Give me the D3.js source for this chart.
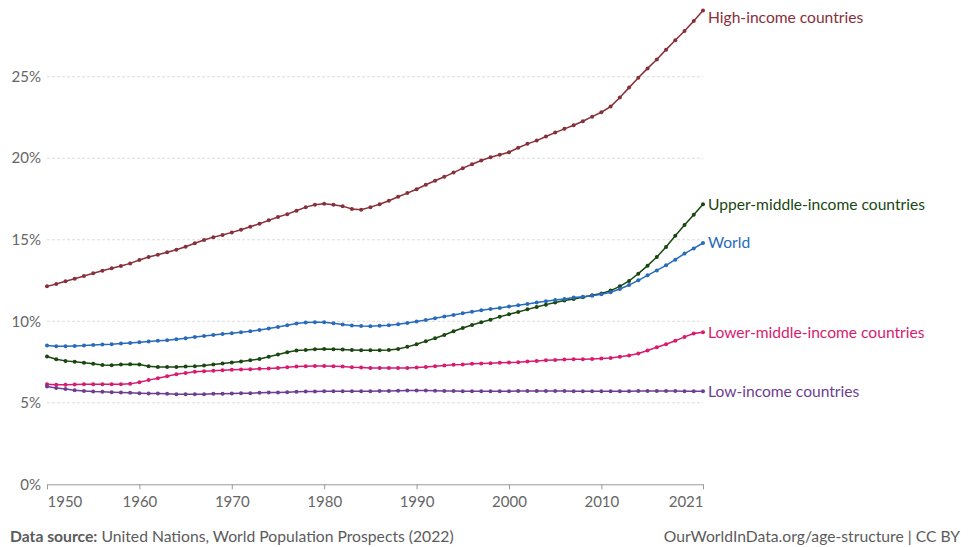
<!DOCTYPE html>
<html>
<head>
<meta charset="utf-8">
<script src="https://cdn.jsdelivr.net/npm/d3@7"></script>
<style>
  html, body { margin: 0; padding: 0; background: #fff; }
  svg { display: block; font-family: Lato, "Noto Sans", sans-serif; }
</style>
</head>
<body>
<svg id="chart" width="972" height="547"></svg>
<script>
const startYear = 1950;
const endYear = 2021;
const years = d3.range(startYear, endYear + 1);
const yTicks = [0, 5, 10, 15, 20, 25];
const xTicks = [1950, 1960, 1970, 1980, 1990, 2000, 2010, 2021];

const seriesNames = ["High-income countries", "Upper-middle-income countries", "World", "Lower-middle-income countries", "Low-income countries"];
const seriesColors = ["#883039", "#18470f", "#286bbb", "#d81b6f", "#6d3e91"];

const highIncome = [12.14, 12.29, 12.45, 12.61, 12.78, 12.94, 13.10, 13.25, 13.39, 13.55,
  13.76, 13.94, 14.08, 14.23, 14.39, 14.57, 14.78, 14.98, 15.16, 15.29,
  15.45, 15.61, 15.80, 15.98, 16.19, 16.39, 16.57, 16.78, 17.00, 17.15,
  17.21, 17.15, 17.06, 16.88, 16.84, 17.00, 17.18, 17.39, 17.64, 17.86,
  18.10, 18.37, 18.62, 18.86, 19.12, 19.39, 19.63, 19.86, 20.06, 20.21,
  20.37, 20.64, 20.88, 21.08, 21.33, 21.57, 21.80, 22.02, 22.27, 22.55,
  22.82, 23.17, 23.72, 24.33, 24.94, 25.51, 26.06, 26.66, 27.23, 27.80,
  28.41, 29.06];
const upperMiddle = [7.84, 7.67, 7.57, 7.51, 7.45, 7.39, 7.32, 7.30, 7.35, 7.37,
  7.35, 7.24, 7.20, 7.20, 7.20, 7.23, 7.24, 7.29, 7.35, 7.41,
  7.47, 7.53, 7.61, 7.69, 7.82, 7.96, 8.10, 8.21, 8.24, 8.29,
  8.30, 8.29, 8.27, 8.24, 8.22, 8.22, 8.22, 8.23, 8.30, 8.43,
  8.59, 8.78, 8.96, 9.16, 9.39, 9.59, 9.77, 9.94, 10.10, 10.27,
  10.43, 10.57, 10.73, 10.88, 11.02, 11.15, 11.27, 11.37, 11.47, 11.59,
  11.70, 11.88, 12.14, 12.47, 12.92, 13.41, 13.94, 14.55, 15.25, 15.90,
  16.53, 17.17];
const world = [8.51, 8.47, 8.47, 8.49, 8.51, 8.55, 8.57, 8.59, 8.63, 8.67,
  8.71, 8.76, 8.80, 8.84, 8.90, 8.96, 9.04, 9.10, 9.16, 9.22,
  9.27, 9.33, 9.39, 9.47, 9.55, 9.65, 9.75, 9.86, 9.92, 9.94,
  9.94, 9.88, 9.80, 9.74, 9.71, 9.70, 9.72, 9.76, 9.82, 9.90,
  9.98, 10.08, 10.18, 10.29, 10.39, 10.49, 10.59, 10.67, 10.75, 10.82,
  10.90, 10.98, 11.06, 11.15, 11.22, 11.30, 11.37, 11.45, 11.51, 11.57,
  11.65, 11.78, 11.98, 12.22, 12.51, 12.82, 13.12, 13.43, 13.78, 14.15,
  14.47, 14.80];
const lowerMiddle = [6.14, 6.10, 6.10, 6.12, 6.14, 6.14, 6.14, 6.14, 6.14, 6.16,
  6.26, 6.39, 6.51, 6.63, 6.75, 6.83, 6.90, 6.94, 6.96, 7.00,
  7.02, 7.04, 7.06, 7.08, 7.10, 7.14, 7.18, 7.23, 7.24, 7.26,
  7.26, 7.24, 7.23, 7.18, 7.16, 7.14, 7.13, 7.13, 7.13, 7.14,
  7.16, 7.20, 7.24, 7.29, 7.33, 7.35, 7.39, 7.41, 7.43, 7.45,
  7.47, 7.49, 7.53, 7.57, 7.61, 7.63, 7.65, 7.67, 7.67, 7.69,
  7.72, 7.74, 7.82, 7.90, 8.02, 8.21, 8.41, 8.59, 8.80, 9.04,
  9.25, 9.33];
const lowIncome = [6.00, 5.90, 5.84, 5.77, 5.73, 5.69, 5.67, 5.65, 5.63, 5.61,
  5.59, 5.57, 5.57, 5.55, 5.53, 5.53, 5.53, 5.53, 5.55, 5.55,
  5.57, 5.59, 5.59, 5.61, 5.63, 5.63, 5.65, 5.67, 5.69, 5.69,
  5.71, 5.71, 5.71, 5.71, 5.71, 5.71, 5.72, 5.73, 5.74, 5.75,
  5.75, 5.75, 5.74, 5.73, 5.72, 5.71, 5.70, 5.70, 5.70, 5.71,
  5.71, 5.72, 5.72, 5.73, 5.73, 5.72, 5.72, 5.71, 5.70, 5.70,
  5.70, 5.70, 5.71, 5.71, 5.72, 5.72, 5.72, 5.72, 5.72, 5.71,
  5.71, 5.70];

const seriesValues = [highIncome, upperMiddle, world, lowerMiddle, lowIncome];

const svg = d3.select("#chart");
const x = d3.scaleLinear().domain([startYear, endYear]).range([47, 703]);
const y = d3.scaleLinear().domain([0, 25]).range([484.3, 76.7]);

// gridlines
svg.append("g").selectAll("line")
  .data(yTicks.filter(t => t > 0))
  .join("line")
  .attr("x1", x(startYear)).attr("x2", x(endYear))
  .attr("y1", d => y(d)).attr("y2", d => y(d))
  .attr("stroke", "#dddddd").attr("stroke-width", 1)
  .attr("stroke-dasharray", "3,2");

// y labels
svg.append("g").selectAll("text")
  .data(yTicks)
  .join("text")
  .attr("x", 41).attr("y", d => y(d))
  .attr("dy", "0.35em")
  .attr("text-anchor", "end")
  .attr("fill", "#666")
  .attr("font-size", 15)
  .text(d => d + "%");

// x axis
const xAxis = d3.axisBottom(x).tickValues(xTicks).tickFormat(d3.format("d")).tickSize(5).tickSizeOuter(0);
const gx = svg.append("g").attr("transform", `translate(0,${y(0)})`).call(xAxis);
gx.select(".domain").attr("stroke", "#999");
gx.selectAll(".tick line").attr("stroke", "#999");
gx.selectAll(".tick text")
  .attr("fill", "#666").attr("font-size", 15).attr("font-family", "Lato, sans-serif")
  .attr("dy", "0.95em")
  .attr("text-anchor", d => d === startYear ? "start" : d === endYear ? "end" : "middle");

// lines
const line = d3.line().x((d, i) => x(years[i])).y(d => y(d));
seriesValues.forEach((vals, si) => {
  const g = svg.append("g");
  g.append("path")
    .datum(vals)
    .attr("d", line)
    .attr("fill", "none")
    .attr("stroke", seriesColors[si])
    .attr("stroke-width", 1.5);
  g.selectAll("circle")
    .data(vals)
    .join("circle")
    .attr("cx", (d, i) => x(years[i]))
    .attr("cy", d => y(d))
    .attr("r", 2)
    .attr("fill", seriesColors[si]);
  g.append("text")
    .attr("x", 708)
    .attr("y", Math.max(y(vals[vals.length - 1]), 18))
    .attr("dy", "0.35em")
    .attr("fill", seriesColors[si])
    .attr("font-size", 15.6)
    .text(seriesNames[si]);
});

// footer
const foot = svg.append("text").attr("x", 10).attr("y", 542).attr("font-size", 15.7).attr("fill", "#5b5b5b");
foot.append("tspan").attr("font-weight", "bold").text("Data source:");
foot.append("tspan").text(" United Nations, World Population Prospects (2022)");
svg.append("text").attr("x", 960).attr("y", 542).attr("text-anchor", "end")
  .attr("font-size", 15.7).attr("fill", "#5b5b5b")
  .text("OurWorldInData.org/age-structure | CC BY");
</script>
</body>
</html>
